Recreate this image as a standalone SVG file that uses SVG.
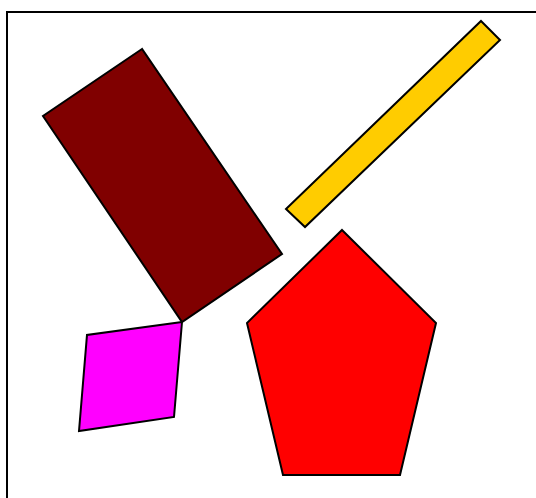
<svg xmlns="http://www.w3.org/2000/svg" width="536" height="498" viewBox="0 0 536 498">
<style>
.s{stroke:#000;stroke-width:2;stroke-linejoin:miter}
</style>
<rect x="0" y="0" width="536" height="498" fill="#fff"/>
<rect x="7" y="12" width="540" height="500" fill="#fff" class="s"/>
<g id="maroon-rect"><polygon class="s" fill="#800000" points="142,49 43,116 182,322 282,254"/></g>
<g id="yellow-bar"><polygon class="s" fill="#ffcc00" points="481,21 500,40 305,227 286,209"/></g>
<g id="red-pentagon"><polygon class="s" fill="#ff0000" points="342,230 436,323 400,475 283,475 247,323"/></g>
<g id="magenta-rhombus"><polygon class="s" fill="#ff00ff" points="182,322 87,335 79,431 174,417"/></g>
<g id="connectors"></g>
</svg>
